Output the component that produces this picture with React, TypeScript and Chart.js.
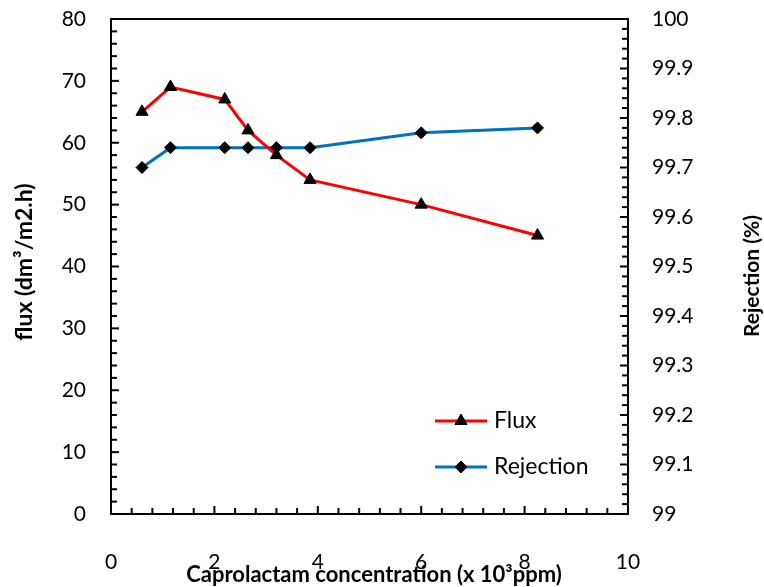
import React, { useEffect, useRef } from "react";
import { Chart, registerables } from "chart.js";

Chart.register(...registerables);

const concentration = [0.6, 1.15, 2.2, 2.65, 3.2, 3.85, 6.0, 8.25];
const flux = [65, 69, 67, 62, 58, 54, 50, 45];
const rejection = [99.7, 99.74, 99.74, 99.74, 99.74, 99.74, 99.77, 99.78];

const FONT = "Lato";

function drawPointFn(ctx: any, style: string, r: number, x: number, y: number) {
  ctx.beginPath();
  if (style === "triangle") {
    const rad = -Math.PI / 2;
    ctx.moveTo(x + Math.cos(rad) * r, y + Math.sin(rad) * r);
    ctx.lineTo(x + Math.cos(rad + (2 * Math.PI) / 3) * r, y + Math.sin(rad + (2 * Math.PI) / 3) * r);
    ctx.lineTo(x + Math.cos(rad + (4 * Math.PI) / 3) * r, y + Math.sin(rad + (4 * Math.PI) / 3) * r);
  } else {
    ctx.moveTo(x - r, y);
    ctx.lineTo(x, y - r);
    ctx.lineTo(x + r, y);
    ctx.lineTo(x, y + r);
  }
  ctx.closePath();
  ctx.fill();
  ctx.stroke();
}

const frame = {
  id: "frame",
  afterDraw(chart: any) {
    const ctx = chart.ctx;
    const a = chart.chartArea;
    ctx.save();
    ctx.strokeStyle = "#000";
    ctx.lineWidth = 2;
    ctx.beginPath();
    ctx.moveTo(a.left - 1, a.top);
    ctx.lineTo(a.right + 1, a.top);
    ctx.stroke();
    const drawTicks = (scale: any, dir: string) => {
      const vals = scale.ticks.map((t: any) => t.value);
      const minorN = 5;
      for (let i = 0; i < vals.length; i++) {
        const list: [number, number][] = [[vals[i], 8]];
        if (i < vals.length - 1) {
          for (let k = 1; k < minorN; k++) list.push([vals[i] + ((vals[i + 1] - vals[i]) * k) / minorN, 6]);
        }
        for (const [v, len] of list) {
          const p = scale.getPixelForValue(v);
          ctx.beginPath();
          if (dir === "up") {
            ctx.moveTo(p, a.bottom);
            ctx.lineTo(p, a.bottom - len);
          } else if (dir === "right") {
            ctx.moveTo(a.left, p);
            ctx.lineTo(a.left + len, p);
          } else {
            ctx.moveTo(a.right, p);
            ctx.lineTo(a.right - len, p);
          }
          ctx.stroke();
        }
      }
    };
    drawTicks(chart.scales.x, "up");
    drawTicks(chart.scales.y, "right");
    drawTicks(chart.scales.y1, "left");

    ctx.fillStyle = "#000";
    ctx.font = `bold 22px ${FONT}`;
    ctx.textAlign = "center";
    ctx.textBaseline = "middle";
    ctx.fillText("Caprolactam concentration (x 10³ppm)", 374, 575);
    ctx.save();
    ctx.translate(25, 262);
    ctx.rotate(-Math.PI / 2);
    ctx.font = `bold 23px ${FONT}`;
    ctx.fillText("flux (dm³/m2.h)", 0, 0);
    ctx.restore();
    ctx.save();
    ctx.translate(752, 276);
    ctx.rotate(-Math.PI / 2);
    ctx.font = `bold 21px ${FONT}`;
    ctx.fillText("Rejection (%)", 0, 0);
    ctx.restore();

    const items = chart.data.datasets;
    const ys = [421, 467];
    items.forEach((ds: any, i: number) => {
      const y = ys[i];
      ctx.strokeStyle = ds.borderColor;
      ctx.lineWidth = 3;
      ctx.beginPath();
      ctx.moveTo(435, y);
      ctx.lineTo(487, y);
      ctx.stroke();
      ctx.fillStyle = "#000";
      ctx.strokeStyle = "#000";
      ctx.lineWidth = 1;
      drawPointFn(ctx, ds.pointStyle, ds.pointRadius, 461, y);
      ctx.font = `23px ${FONT}`;
      ctx.textAlign = "left";
      ctx.textBaseline = "middle";
      ctx.fillText(ds.label, 494, y);
    });
    ctx.restore();
  },
};

export default function App() {
  const ref = useRef<HTMLCanvasElement>(null);
  useEffect(() => {
    document.body.style.margin = "0";
    const tickFont = { family: FONT, size: 21 };
    const chart = new Chart(ref.current!, {
      type: "line",
      data: {
        datasets: [
          {
            label: "Flux",
            data: concentration.map((x, i) => ({ x, y: flux[i] })),
            borderColor: "#FF0000",
            borderWidth: 3,
            pointStyle: "triangle",
            pointRadius: 7,
            pointBackgroundColor: "#000",
            pointBorderColor: "#000",
            pointBorderWidth: 1,
            yAxisID: "y",
          },
          {
            label: "Rejection",
            data: concentration.map((x, i) => ({ x, y: rejection[i] })),
            borderColor: "#0070C0",
            borderWidth: 3,
            pointStyle: "rectRot",
            pointRadius: 6,
            pointBackgroundColor: "#000",
            pointBorderColor: "#000",
            pointBorderWidth: 1,
            yAxisID: "y1",
          },
        ],
      },
      options: {
        animation: false,
        responsive: false,
        devicePixelRatio: 1,
        layout: { padding: { top: 19, left: 0, right: 0, bottom: 0 } },
        plugins: { legend: { display: false }, tooltip: { enabled: false } },
        scales: {
          x: {
            type: "linear",
            min: 0,
            max: 10,
            ticks: { stepSize: 2, color: "#000", font: tickFont, padding: 28, maxRotation: 0 },
            grid: { display: false },
            border: { display: true, color: "#000", width: 2 },
            afterFit: (s: any) => {
              s.height = 73;
              s.paddingLeft = 0;
              s.paddingRight = 0;
            },
          },
          y: {
            type: "linear",
            position: "left",
            min: 0,
            max: 80,
            ticks: { stepSize: 10, color: "#000", font: tickFont, padding: 17 },
            grid: { display: false },
            border: { display: true, color: "#000", width: 2 },
            afterFit: (s: any) => {
              s.width = 111;
              s.paddingTop = 0;
              s.paddingBottom = 0;
            },
          },
          y1: {
            type: "linear",
            position: "right",
            min: 99,
            max: 100,
            ticks: {
              stepSize: 0.1,
              color: "#000",
              font: tickFont,
              padding: 16,
              callback: (v: any) => String(Number(Number(v).toFixed(1))),
            },
            grid: { display: false },
            border: { display: true, color: "#000", width: 2 },
            afterFit: (s: any) => {
              s.width = 136;
              s.paddingTop = 0;
              s.paddingBottom = 0;
            },
          },
        },
      },
      plugins: [frame],
    } as any);
    return () => chart.destroy();
  }, []);
  return (
    <div style={{ width: 764, height: 587, background: "#fff" }}>
      <canvas ref={ref} width={764} height={587} />
    </div>
  );
}
